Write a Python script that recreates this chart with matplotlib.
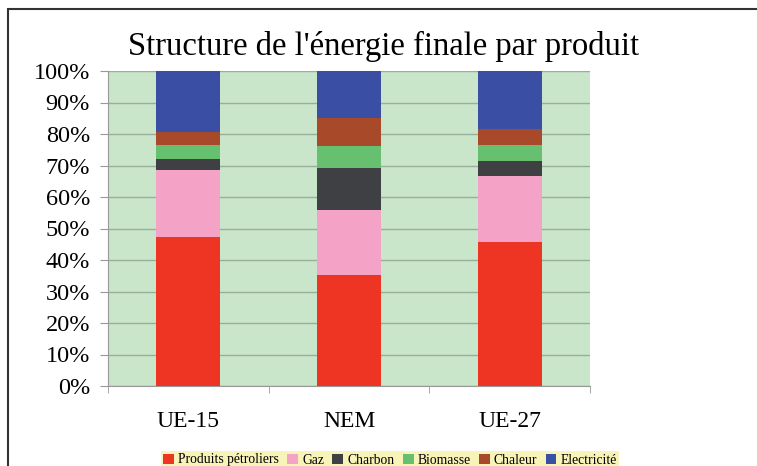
import matplotlib
matplotlib.use("Agg")
import matplotlib.pyplot as plt
from matplotlib.patches import Rectangle
import numpy as np

categories = ["UE-15", "NEM", "UE-27"]
series_names = ["Produits pétroliers", "Gaz", "Charbon", "Biomasse", "Chaleur", "Electricité"]
petrol = [47.4, 35.2, 45.8]
gaz = [21.2, 20.7, 21.0]
charbon = [3.5, 13.2, 4.7]
biomasse = [4.4, 7.1, 5.0]
chaleur = [4.2, 8.8, 5.0]
electricite = [19.3, 15.0, 18.5]
yticks = [0, 10, 20, 30, 40, 50, 60, 70, 80, 90, 100]
colors = ["#EE3524", "#F4A3C6", "#3E4043", "#67C06F", "#A8492A", "#3A4FA3"]

plt.rcParams['font.family'] = ['Liberation Serif', 'DejaVu Serif']

fig = plt.figure(figsize=(7.57, 4.66), dpi=100)
fig.patches.append(Rectangle((8/757, -0.1), 1.2, (466-9)/466 + 0.1, transform=fig.transFigure,
                             fill=False, edgecolor="#333333", linewidth=1.5))
ax = fig.add_axes([108/757, (466-386)/466, (590-108)/757, (386-71)/466])
ax.set_facecolor("#C9E5CA")

data = [petrol, gaz, charbon, biomasse, chaleur, electricite]
x = np.arange(len(categories))
bottom = np.zeros(len(categories))
handles = []
for vals, c, name in zip(data, colors, series_names):
    h = ax.bar(x, vals, bottom=bottom, width=0.4, color=c, label=name, zorder=3)
    bottom += np.array(vals)
    handles.append(h)

ax.set_xlim(-0.5, 2.5)
ax.set_ylim(0, 100)
ax.set_yticks(yticks)
ax.set_yticklabels([f"{t}%" for t in yticks], fontsize=17.5)
ax.yaxis.grid(True, color="#9AAE9C", linewidth=1, zorder=1)
ax.set_axisbelow(True)
ax.set_xticks(x)
ax.set_xticklabels(categories, fontsize=17)
ax.tick_params(axis='x', length=0, pad=18)
ax.set_xticks([-0.5, 0.5, 1.5, 2.5], minor=True)
ax.tick_params(axis='x', which='minor', length=5, color="#999999")
ax.tick_params(axis='y', length=6, color="#999999", pad=7)
for s in ["top", "right"]:
    ax.spines[s].set_visible(False)
for s in ["left", "bottom"]:
    ax.spines[s].set_color("#999999")

fig.text(384/757, 1 - 55/466, "Structure de l'énergie finale par produit", ha="center", va="baseline", fontsize=23.5)

leg = fig.legend(handles=handles, loc="center", bbox_to_anchor=(390/757, 1 - 460/466), ncol=6,
                 fontsize=9.8, frameon=True, handlelength=0.8, handleheight=0.8, handletextpad=0.3,
                 columnspacing=0.6, borderpad=0.15, fancybox=False)
leg.get_frame().set_facecolor("#F7F2A6")
leg.get_frame().set_edgecolor("none")

fig.savefig("out.png", dpi=100)
